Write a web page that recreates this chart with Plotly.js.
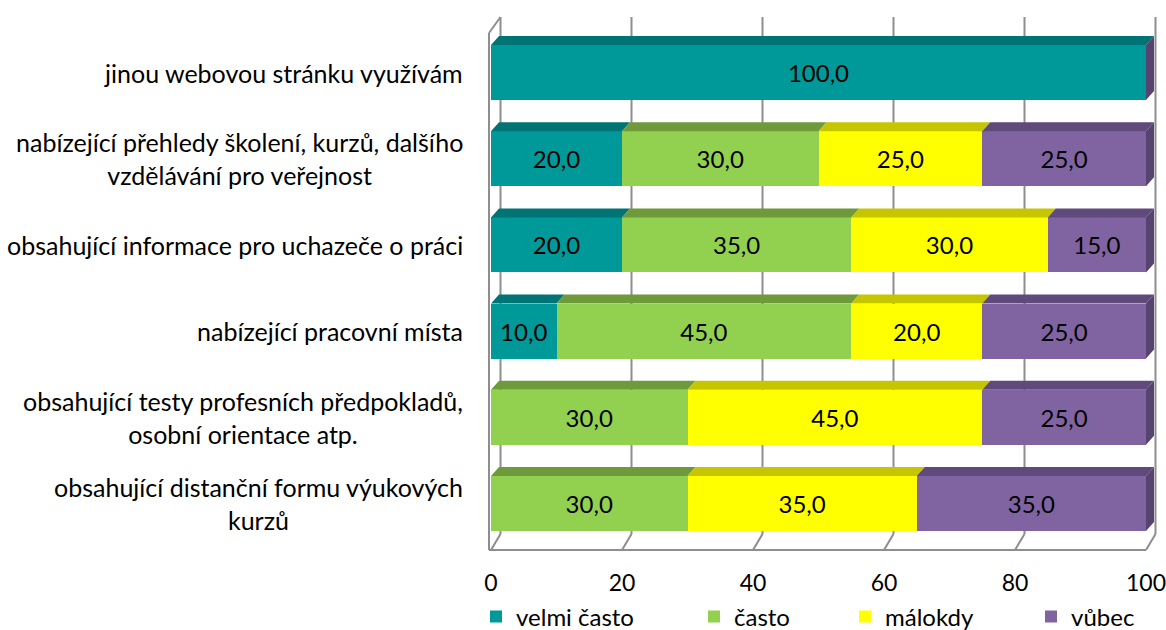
<!DOCTYPE html>
<html><head><meta charset="utf-8">
<script src="https://cdn.plot.ly/plotly-3.0.1.min.js"></script>
<style>html,body{margin:0;padding:0;background:#fff}#chart{width:1166px;height:630px}</style>
</head><body><div id="chart"></div>
<script>
// ---- data ----
const categories = [
  'jinou webovou stránku využívám',
  'nabízející přehledy školení, kurzů, dalšího<br>vzdělávání pro veřejnost',
  'obsahující informace pro uchazeče o práci',
  'nabízející pracovní místa',
  'obsahující testy profesních předpokladů,<br>osobní orientace atp.',
  'obsahující distanční formu výukových<br>kurzů'
];
const velmiCasto = [100, 20, 20, 10, 0, 0];
const casto      = [0, 30, 35, 45, 30, 30];
const malokdy    = [0, 25, 30, 20, 45, 35];
const vubec      = [0, 25, 15, 25, 25, 35];
const seriesNames = ['velmi často', 'často', 'málokdy', 'vůbec'];
const xTicks = [0, 20, 40, 60, 80, 100];

// ---- styles ----
const series = [velmiCasto, casto, malokdy, vubec];
const frontColors = ['#009999', '#92D050', '#FFFF00', '#8064A2'];
const topColors = ['#007474', '#6F9A3C', '#C6C600', '#604A7B'];
const sideColor = '#56436F';
const gridColor = '#8E8E8E';
const FONT = 'Lato, "Open Sans", sans-serif';

const W = 1166, H = 630;
const M = {l: 465, r: 4, t: 10, b: 75};
// pixel geometry helpers
const pxPerX = 6.55, x0px = 491;
const pxPerY = 86.2, y0px = 503.5;
const xv = p => (p - x0px) / pxPerX;
const yv = p => (y0px - p) / pxPerY;

const pos = categories.map((c, i) => categories.length - 1 - i);
const barW = 0.638;
const dX = 8 / pxPerX, dY = 9 / pxPerY;      // bar depth
const wX = 9.5 / pxPerX;                     // wall depth
const floorBack = yv(534), floorFront = yv(550);
const topBack = yv(17), topFront = yv(33), wallFrontX = xv(489);

const fmt = v => v > 0 ? v.toFixed(1).replace('.', ',') : '';

const traces = [];
series.forEach((vals, s) => {
  traces.push({
    type: 'bar', orientation: 'h', name: seriesNames[s],
    x: vals, y: pos, width: barW,
    marker: {color: frontColors[s], line: {width: 0}},
    text: vals.map(fmt), textposition: 'inside', insidetextanchor: 'middle',
    constraintext: 'none',
    textfont: {family: FONT, size: 24, color: '#000'},
    hoverinfo: 'x+name',
    legend: s === 0 ? 'legend' : 'legend' + (s + 1)
  });
});

// top faces of every segment, computed from the stacked values
series.forEach((vals, s) => {
  const xs = [], ys = [];
  vals.forEach((v, i) => {
    if (v <= 0) return;
    let start = 0;
    for (let k = 0; k < s; k++) start += series[k][i];
    const end = start + v;
    const yt = pos[i] + barW / 2;
    xs.push(start, end, end + dX, start + dX, start, null);
    ys.push(yt, yt, yt + dY, yt + dY, yt, null);
  });
  traces.push({type: 'scatter', mode: 'lines', x: xs, y: ys, fill: 'toself',
    fillcolor: topColors[s], line: {width: 0, color: topColors[s]},
    showlegend: false, hoverinfo: 'skip'});
});

// right side faces at the end of each stacked bar
{
  const xs = [], ys = [];
  pos.forEach((p, i) => {
    const total = series.reduce((a, arr) => a + arr[i], 0);
    const yb = p - barW / 2, yt = p + barW / 2;
    xs.push(total, total, total + dX, total + dX, total, null);
    ys.push(yb, yt, yt + dY, yb + dY, yb, null);
  });
  traces.push({type: 'scatter', mode: 'lines', x: xs, y: ys, fill: 'toself',
    fillcolor: sideColor, line: {width: 0, color: sideColor},
    showlegend: false, hoverinfo: 'skip'});
}

// walls & gridlines
const shapes = [];
const ln = (x0, y0, x1, y1) => ({type: 'line', xref: 'x', yref: 'y', x0, y0, x1, y1,
  layer: 'below', line: {color: gridColor, width: 2}});
xTicks.forEach(t => {
  shapes.push(ln(t + wX, floorBack, t + wX, topBack));
  shapes.push(ln(t + wX, floorBack, t, floorFront));
});
shapes.push(ln(wallFrontX, floorFront, wallFrontX, topFront));
shapes.push(ln(wallFrontX, topFront, wX, topBack));
shapes.push(ln(wallFrontX, floorFront, xTicks[xTicks.length - 1], floorFront));

const annotations = categories.map((c, i) => ({
  xref: 'paper', yref: 'y', x: 0, y: pos[i], xanchor: 'right', yanchor: 'middle',
  text: c, showarrow: false, align: 'center',
  font: {family: FONT, size: 25, color: '#000'}
}));

const legendLeftPx = [490, 708, 859, 1045];
const legendYpx = 617;
const mkLegend = px => ({
  orientation: 'h', xref: 'container', yref: 'container',
  xanchor: 'left', yanchor: 'middle',
  x: (px - 14) / W, y: 1 - legendYpx / H,
  font: {family: FONT, size: 24, color: '#000'}, bgcolor: 'rgba(0,0,0,0)',
  itemwidth: 30
});

const layout = {
  width: W, height: H, margin: M,
  paper_bgcolor: '#fff', plot_bgcolor: '#fff',
  barmode: 'stack', separators: ', ',
  showlegend: true,
  legend: mkLegend(legendLeftPx[0]),
  legend2: mkLegend(legendLeftPx[1]),
  legend3: mkLegend(legendLeftPx[2]),
  legend4: mkLegend(legendLeftPx[3]),
  xaxis: {range: [xv(M.l), xv(W - M.r)], tickvals: xTicks, showgrid: false, zeroline: false,
    showline: false, ticks: '', ticklabelstandoff: 12, automargin: false,
    ticklabeloverflow: 'allow',
    tickfont: {family: FONT, size: 23, color: '#000'}},
  yaxis: {range: [yv(H - M.b), yv(M.t)], showgrid: false, zeroline: false, automargin: false,
    showline: false, showticklabels: false, ticks: ''},
  shapes, annotations
};

Plotly.newPlot('chart', traces, layout, {staticPlot: true});
</script></body></html>
